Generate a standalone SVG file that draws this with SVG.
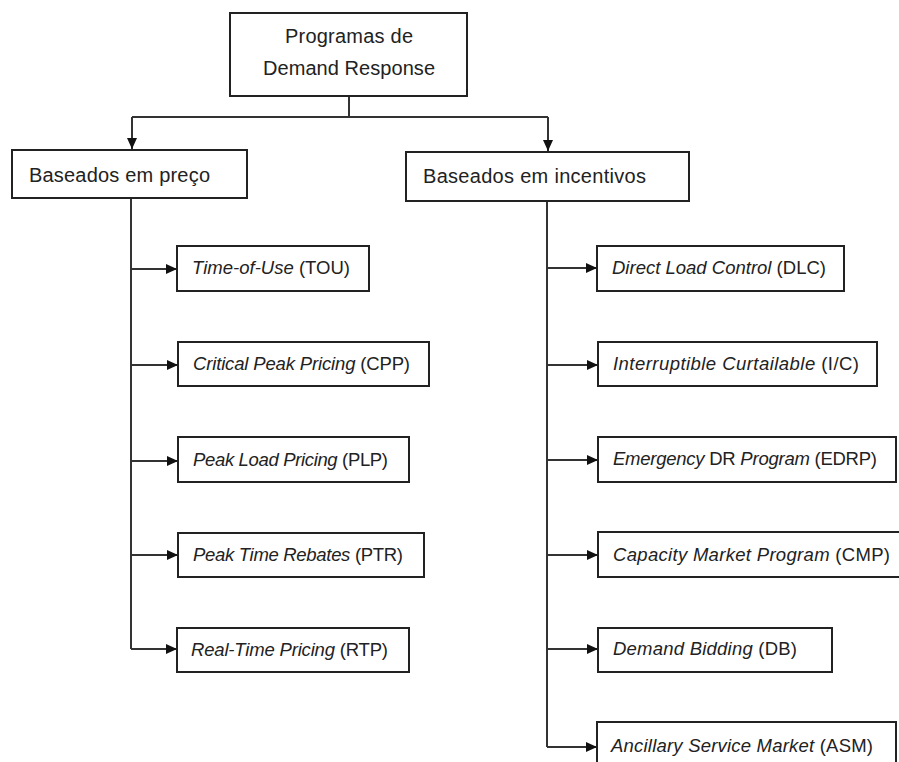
<svg xmlns="http://www.w3.org/2000/svg" width="899" height="762" viewBox="0 0 899 762">
<style>
.box{fill:#fff;stroke:#222;stroke-width:2}
.t{font-family:"Liberation Sans",Arial,sans-serif;font-size:18.5px;fill:#222}
.h{font-family:"Liberation Sans",Arial,sans-serif;font-size:20px;fill:#222}
.i{font-style:italic}
.c{fill:none;stroke:#333;stroke-width:2}
</style>
<defs>
<marker id="ar" markerUnits="userSpaceOnUse" markerWidth="12" markerHeight="10" refX="11" refY="5" orient="auto">
<path d="M0,0 L11,5 L0,10 Z" fill="#111"/>
</marker>
</defs>
<rect width="899" height="762" fill="#fff"/>
<g id="connectors">
<path class="c" d="M349,96 V117"/>
<path class="c" d="M132,117 H548"/>
<path class="c" d="M132,117 V149" marker-end="url(#ar)"/>
<path class="c" d="M548,117 V151" marker-end="url(#ar)"/>
<path class="c" d="M131,198 V649"/>
<path class="c" d="M131,269 H177" marker-end="url(#ar)"/>
<path class="c" d="M131,365 H178" marker-end="url(#ar)"/>
<path class="c" d="M131,461 H178" marker-end="url(#ar)"/>
<path class="c" d="M131,555 H178" marker-end="url(#ar)"/>
<path class="c" d="M131,649 H177" marker-end="url(#ar)"/>
<path class="c" d="M547,201 V747"/>
<path class="c" d="M547,268 H597" marker-end="url(#ar)"/>
<path class="c" d="M547,365 H598" marker-end="url(#ar)"/>
<path class="c" d="M547,460 H598" marker-end="url(#ar)"/>
<path class="c" d="M547,555 H598" marker-end="url(#ar)"/>
<path class="c" d="M547,649 H598" marker-end="url(#ar)"/>
<path class="c" d="M547,747 H597" marker-end="url(#ar)"/>
</g>
<g id="root">
<rect class="box" x="230" y="13" width="237" height="83"/>
<text class="h" x="285" y="43" textLength="128">Programas de</text>
<text class="h" x="263" y="75" textLength="172">Demand Response</text>
</g>
<g id="preco">
<rect class="box" x="12" y="150" width="235" height="48"/>
<text class="h" x="29" y="182" textLength="181">Baseados em preço</text>
</g>
<g id="incentivos">
<rect class="box" x="406" y="152" width="283" height="49"/>
<text class="h" x="423" y="183" textLength="223">Baseados em incentivos</text>
</g>
<g id="tou">
<rect class="box" x="177" y="246" width="192" height="45"/>
<text class="t" x="192" y="274" textLength="158"><tspan class="i">Time-of-Use</tspan> (TOU)</text>
</g>
<g id="cpp">
<rect class="box" x="178" y="342" width="251" height="44"/>
<text class="t" x="193" y="370" textLength="217"><tspan class="i">Critical Peak Pricing</tspan> (CPP)</text>
</g>
<g id="plp">
<rect class="box" x="178" y="437" width="231" height="45"/>
<text class="t" x="193" y="466" textLength="195"><tspan class="i">Peak Load Pricing</tspan> (PLP)</text>
</g>
<g id="ptr">
<rect class="box" x="178" y="533" width="246" height="44"/>
<text class="t" x="193" y="561" textLength="210"><tspan class="i">Peak Time Rebates</tspan> (PTR)</text>
</g>
<g id="rtp">
<rect class="box" x="177" y="628" width="232" height="44"/>
<text class="t" x="191" y="656" textLength="197"><tspan class="i">Real-Time Pricing</tspan> (RTP)</text>
</g>
<g id="dlc">
<rect class="box" x="597" y="246" width="247" height="45"/>
<text class="t" x="612" y="274" textLength="214"><tspan class="i">Direct Load Control</tspan> (DLC)</text>
</g>
<g id="ic">
<rect class="box" x="598" y="342" width="279" height="44"/>
<text class="t" x="613" y="370" textLength="246"><tspan class="i">Interruptible Curtailable</tspan> (I/C)</text>
</g>
<g id="edrp">
<rect class="box" x="598" y="437" width="298" height="45"/>
<text class="t" x="613" y="465" textLength="264"><tspan class="i">Emergency</tspan> DR <tspan class="i">Program</tspan> (EDRP)</text>
</g>
<g id="cmp">
<rect class="box" x="598" y="532" width="305" height="45"/>
<text class="t" x="613" y="561" textLength="277"><tspan class="i">Capacity Market Program</tspan> (CMP)</text>
</g>
<g id="db">
<rect class="box" x="598" y="628" width="234" height="44"/>
<text class="t" x="613" y="655" textLength="184"><tspan class="i">Demand Bidding</tspan> (DB)</text>
</g>
<g id="asm">
<rect class="box" x="597" y="722" width="299" height="50"/>
<text class="t" x="611" y="752" textLength="262"><tspan class="i">Ancillary Service Market</tspan> (ASM)</text>
</g>
</svg>
